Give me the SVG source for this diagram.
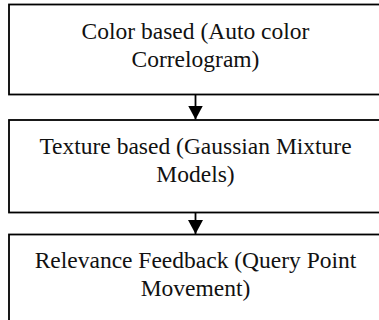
<svg xmlns="http://www.w3.org/2000/svg" width="379" height="320" viewBox="0 0 379 320">
  <defs>
    <!-- solid triangular head, pointing along the line direction -->
    <marker id="arrow" markerWidth="14" markerHeight="15" refX="14" refY="7.5" orient="auto" markerUnits="userSpaceOnUse" viewBox="0 0 14 15">
      <path d="M0,0 L14,7.5 L0,15 Z" fill="#000"/>
    </marker>
  </defs>
  <style>
    .box { fill: #fff; stroke: #000; stroke-width: 1.8; }
    .lbl { font-family: "Liberation Serif", "Times New Roman", "DejaVu Serif", serif; font-size: 23.5px; fill: #111; text-anchor: middle; }
    .conn { stroke: #000; stroke-width: 1.8; fill: none; }
  </style>
  <rect width="379" height="320" fill="#fff"/>
  <g id="connectors">
    <line class="conn" x1="195.5" y1="94.5" x2="195.5" y2="119.5" marker-end="url(#arrow)"/>
    <line class="conn" x1="195.5" y1="212.5" x2="195.5" y2="234" marker-end="url(#arrow)"/>
  </g>
  <g id="color-based">
    <rect class="box" x="9" y="4.5" width="380" height="90"/>
    <text class="lbl" x="195.5" y="38.5">Color based (Auto color</text>
    <text class="lbl" x="195.5" y="66.5">Correlogram)</text>
  </g>
  <g id="texture-based">
    <rect class="box" x="9" y="120" width="380" height="92.5"/>
    <text class="lbl" x="195.5" y="153.5">Texture based (Gaussian Mixture</text>
    <text class="lbl" x="195.5" y="181.5">Models)</text>
  </g>
  <g id="relevance-feedback">
    <rect class="box" x="9" y="234.5" width="380" height="100"/>
    <text class="lbl" x="195.5" y="267.5">Relevance Feedback (Query Point</text>
    <text class="lbl" x="195.5" y="296">Movement)</text>
  </g>
</svg>
